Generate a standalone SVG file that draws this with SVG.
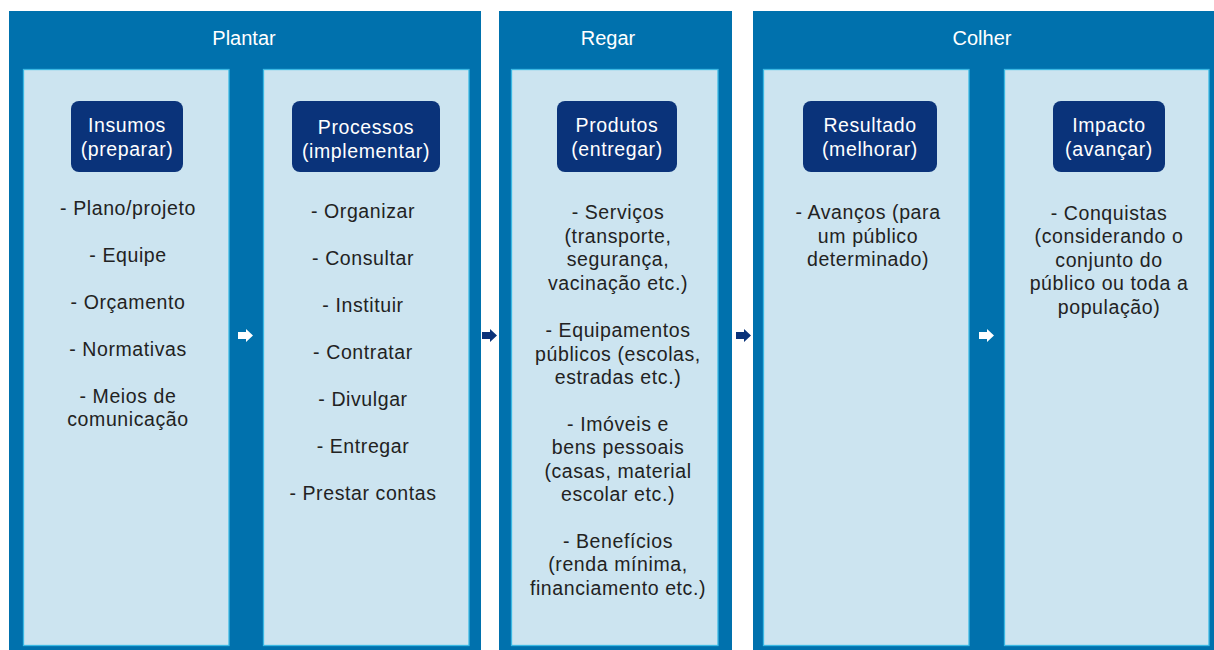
<svg xmlns="http://www.w3.org/2000/svg" width="1214" height="650" viewBox="0 0 1214 650">
<style>
.panel{fill:#0071ad}
.inner{fill:#cce4f0;stroke:#3bb8e3;stroke-width:1.3}
.tag{fill:#0a337a}
.hdr{font-family:"Liberation Sans",Arial,sans-serif;font-size:20px;fill:#ffffff;text-anchor:middle}
.tt{font-family:"Liberation Sans",Arial,sans-serif;font-size:19.5px;letter-spacing:0.6px;fill:#ffffff;text-anchor:middle}
.bt{font-family:"Liberation Sans",Arial,sans-serif;font-size:19.5px;letter-spacing:0.6px;fill:#222222;text-anchor:middle}
.aw{fill:#ffffff}
.an{fill:#0a337a}
</style>
<rect width="1214" height="650" fill="#ffffff"/>
<g id="plantar">
<rect class="panel" x="9" y="11" width="472" height="640"/>
<text class="hdr" x="244" y="45">Plantar</text>
</g>
<g id="regar">
<rect class="panel" x="499" y="11" width="233" height="640"/>
<text class="hdr" x="608" y="45">Regar</text>
</g>
<g id="colher">
<rect class="panel" x="753" y="11" width="461" height="640"/>
<text class="hdr" x="982" y="45">Colher</text>
</g>
<g id="insumos">
<rect class="inner" x="23.5" y="69.5" width="205.5" height="576"/>
<rect class="tag" x="71" y="101" width="112" height="71" rx="8"/>
<text class="tt" x="127" y="132">Insumos</text>
<text class="tt" x="127" y="156">(preparar)</text>
<text class="bt"><tspan x="128" y="215">- Plano/projeto</tspan><tspan x="128" y="262">- Equipe</tspan><tspan x="128" y="309">- Orçamento</tspan><tspan x="128" y="356">- Normativas</tspan><tspan x="128" y="403">- Meios de</tspan><tspan x="128" y="426">comunicação</tspan></text>
</g>
<g id="processos">
<rect class="inner" x="263.5" y="69.5" width="205.5" height="576"/>
<rect class="tag" x="292" y="101" width="148" height="71" rx="8"/>
<text class="tt" x="366" y="134">Processos</text>
<text class="tt" x="366" y="158">(implementar)</text>
<text class="bt"><tspan x="363" y="218">- Organizar</tspan><tspan x="363" y="265">- Consultar</tspan><tspan x="363" y="312">- Instituir</tspan><tspan x="363" y="359">- Contratar</tspan><tspan x="363" y="406">- Divulgar</tspan><tspan x="363" y="453">- Entregar</tspan><tspan x="363" y="500">- Prestar contas</tspan></text>
</g>
<g id="produtos">
<rect class="inner" x="511.5" y="69.5" width="206.5" height="576"/>
<rect class="tag" x="557" y="101" width="120" height="71" rx="8"/>
<text class="tt" x="617" y="132">Produtos</text>
<text class="tt" x="617" y="156">(entregar)</text>
<text class="bt"><tspan x="618" y="219">- Serviços</tspan><tspan x="618" y="243">(transporte,</tspan><tspan x="618" y="266">segurança,</tspan><tspan x="618" y="290">vacinação etc.)</tspan><tspan x="618" y="337">- Equipamentos</tspan><tspan x="618" y="361">públicos (escolas,</tspan><tspan x="618" y="384">estradas etc.)</tspan><tspan x="618" y="431">- Imóveis e</tspan><tspan x="618" y="454">bens pessoais</tspan><tspan x="618" y="478">(casas, material</tspan><tspan x="618" y="501">escolar etc.)</tspan><tspan x="618" y="548">- Benefícios</tspan><tspan x="618" y="571">(renda mínima,</tspan><tspan x="618" y="595">financiamento etc.)</tspan></text>
</g>
<g id="resultado">
<rect class="inner" x="763.5" y="69.5" width="205.5" height="576"/>
<rect class="tag" x="803" y="101" width="134" height="71" rx="8"/>
<text class="tt" x="870" y="132">Resultado</text>
<text class="tt" x="870" y="156">(melhorar)</text>
<text class="bt"><tspan x="868" y="219">- Avanços (para</tspan><tspan x="868" y="243">um público</tspan><tspan x="868" y="266">determinado)</tspan></text>
</g>
<g id="impacto">
<rect class="inner" x="1004.5" y="69.5" width="204.5" height="576"/>
<rect class="tag" x="1053" y="101" width="112" height="71" rx="8"/>
<text class="tt" x="1109" y="132">Impacto</text>
<text class="tt" x="1109" y="156">(avançar)</text>
<text class="bt"><tspan x="1109" y="220">- Conquistas</tspan><tspan x="1109" y="243">(considerando o</tspan><tspan x="1109" y="267">conjunto do</tspan><tspan x="1109" y="290">público ou toda a</tspan><tspan x="1109" y="314">população)</tspan></text>
</g>
<g id="connectors">
<path class="aw" d="M238 332 H246 V329 L253 335.5 L246 342 V339 H238 Z"/>
<path class="an" d="M482 332 H490 V329 L497 335.5 L490 342 V339 H482 Z"/>
<path class="an" d="M736 332 H744 V329 L751 335.5 L744 342 V339 H736 Z"/>
<path class="aw" d="M979 332 H987 V329 L994 335.5 L987 342 V339 H979 Z"/>
</g>
</svg>
